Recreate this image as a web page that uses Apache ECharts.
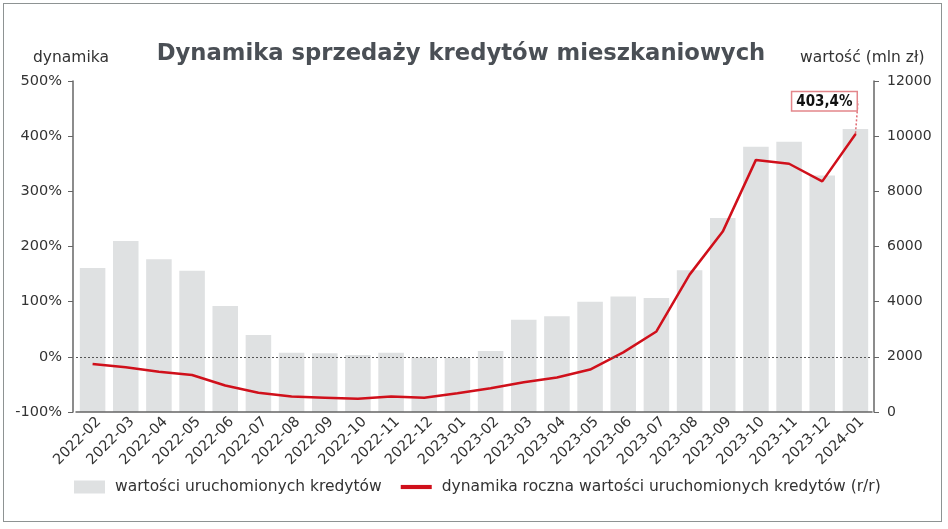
<!DOCTYPE html>
<html>
<head>
<meta charset="utf-8">
<script src="https://cdn.jsdelivr.net/npm/echarts@6/dist/echarts.min.js"></script>
<style>
html,body{margin:0;padding:0;background:#fff;}
#frame{position:absolute;left:3px;top:3px;width:939px;height:519px;border:1.5px solid #8e9393;box-sizing:border-box;}
#chart{position:absolute;left:0;top:0;width:948px;height:529px;}
</style>
</head>
<body>
<div id="frame"></div>
<div id="chart"></div>
<script>
const categories = ['2022-02','2022-03','2022-04','2022-05','2022-06','2022-07','2022-08','2022-09','2022-10','2022-11','2022-12','2023-01','2023-02','2023-03','2023-04','2023-05','2023-06','2023-07','2023-08','2023-09','2023-10','2023-11','2023-12','2024-01'];
const values = [5220,6200,5540,5120,3840,2790,2150,2130,2070,2150,1980,1970,2210,3340,3470,4000,4190,4130,5140,7030,9620,9800,8570,10260];
const dynamics = [-13,-19,-27,-33,-52,-65,-72,-74,-76,-72,-74,-66,-57,-46,-37.5,-23,8,46,149,227,357,350,318,403.4];
const leftTicks = [-100,0,100,200,300,400,500];
const rightTicks = [0,2000,4000,6000,8000,10000,12000];

const FONT = '"DejaVu Sans", sans-serif';
const FONT_C = '"DejaVu Sans Condensed", "DejaVu Sans", sans-serif';
const RED = '#d0101b';
const chart = echarts.init(document.getElementById('chart'));
const lastIdx = dynamics.length - 1;
const lineData = dynamics.map((v,i)=> i===lastIdx ? {
  value: v,
  symbol: 'circle', symbolSize: 2,
  label: {
    show: true,
    position: 'top',
    formatter: (p) => String(p.value).replace('.', ',') + '%',
    fontFamily: FONT_C, fontWeight: 'bold', fontSize: 15, color: '#111',
    backgroundColor: '#fff', borderColor: '#e3868b', borderWidth: 1.5,
    padding: [2,4,1,4]
  },
  labelLine: {show: true, lineStyle: {color: '#e06a72', type: [2,2], width: 1.5}}
} : {value: v, symbol: 'none'});

chart.setOption({
  animation: false,
  title: {
    text: 'Dynamika sprzedaży kredytów mieszkaniowych',
    left: 456, top: 38, textAlign: 'center',
    textStyle: {fontFamily: FONT, fontWeight: 'bold', fontSize: 22.7, color: '#4a4f55'}
  },
  graphic: [
    {type:'text', left: 33, top: 50, style:{text:'dynamika', fontFamily: FONT, fontSize: 15.5, fill:'#333'}},
    {type:'text', left: 800, top: 50, style:{text:'wartość (mln zł)', fontFamily: FONT, fontSize: 15.5, fill:'#333'}}
  ],
  legend: {
    top: 474, left: 69, itemGap: 19,
    textStyle: {fontFamily: FONT, fontSize: 15.5, color: '#333', padding: [0,0,0,5]},
    itemWidth: 31, itemHeight: 13,
    data: [
      {name:'wartości uruchomionych kredytów', icon:'rect', itemStyle:{color:'#dfe1e2'}},
      {name:'dynamika roczna wartości uruchomionych kredytów (r/r)', icon:'path://M0,0L30,0L30,4L0,4Z', itemStyle:{color: RED}}
    ]
  },
  grid: {left: 76, right: 76, top: 81, bottom: 117, containLabel: false},
  xAxis: {
    type: 'category', data: categories, z: 10,
    axisLine: {onZero: false, lineStyle:{color:'#666', width: 1.5}},
    axisTick: {show: false},
    axisLabel: {rotate: 45, interval: 0, fontFamily: FONT, fontSize: 14.5, color: '#333', margin: 14, padding: [0,-9,0,0]}
  },
  yAxis: [
    {type:'value', min: leftTicks[0], max: leftTicks[leftTicks.length-1], interval: 100, offset: 3,
     axisLine:{show:true, lineStyle:{color:'#666', width:1.5}},
     axisTick:{show:true, length:5, lineStyle:{color:'#666'}},
     splitLine:{show:false},
     axisLabel:{formatter:'{value}%', fontFamily: FONT, fontSize: 14.5, color:'#333', margin: 11}},
    {type:'value', min: rightTicks[0], max: rightTicks[rightTicks.length-1], interval: 2000, offset: 2,
     axisLine:{show:true, lineStyle:{color:'#666', width:1.5}},
     axisTick:{show:true, length:5, lineStyle:{color:'#666'}},
     splitLine:{show:false},
     axisLabel:{formatter: (v) => String(v), fontFamily: FONT, fontSize: 14, color:'#333', margin: 13}}
  ],
  series: [
    {name:'wartości uruchomionych kredytów', type:'bar', yAxisIndex: 1, data: values,
     barCategoryGap: '23%', itemStyle:{color:'#dfe1e2'}, z: 1},
    {name:'dynamika roczna wartości uruchomionych kredytów (r/r)', type:'line', yAxisIndex: 0,
     data: lineData, symbol:'none', showSymbol: true, smooth: false,
     lineStyle:{color: RED, width: 2.5}, itemStyle:{color: RED},
     labelLayout: {dx: -31, dy: -18},
     markLine: {silent: true, symbol: 'none', label:{show:false},
       lineStyle:{color:'#555', type:[2,2], width:1},
       data:[{yAxis: 0}]},
     z: 3}
  ]
});
</script>
</body>
</html>
